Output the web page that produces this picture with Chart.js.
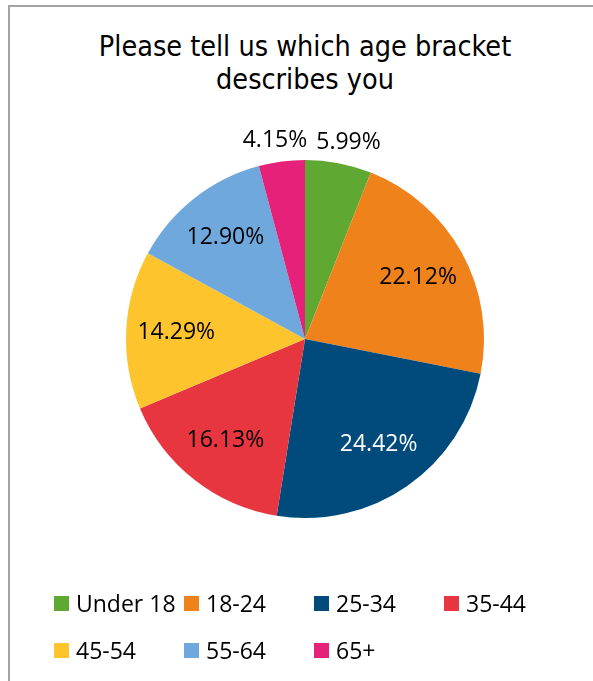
<!DOCTYPE html>
<html lang="en">
<head>
    <meta charset="UTF-8" />
    <title>Age bracket</title>
    <script src="https://cdn.jsdelivr.net/npm/chart.js"></script>
    <style>
        * { box-sizing: border-box; margin: 0; padding: 0; }
        body {
            width: 593px; height: 681px;
            background: #fff;
            position: relative;
            overflow: hidden;
            font-family: 'Open Sans', sans-serif;
            color: #000;
        }
        /* light frame, only top + left visible in the picture */
        .frame {
            position: absolute;
            left: 8px; top: 5px;
            width: 600px; height: 700px;
            border-top: 2px solid #a3a3a3;
            border-left: 2px solid #a3a3a3;
        }
        #chart {
            position: absolute;
            left: 0; top: 0;
        }
        h1 {
            position: absolute;
            left: 0; width: 610px; top: 30px;
            text-align: center;
            font-family: 'DejaVu Sans Condensed', 'DejaVu Sans', sans-serif;
            font-weight: normal;
            font-size: 28.5px;
            line-height: 33px;
        }
        #legend {
            position: absolute;
            left: 54px; top: 589px;
            display: grid;
            grid-template-columns: repeat(4, 130px);
            grid-auto-rows: 47px;
            font-size: 23px;
        }
        #legend .item {
            display: flex;
            align-items: center;
            white-space: nowrap;
            height: 28px;
        }
        #legend .box {
            width: 15px; height: 15px;
            margin-right: 7px;
            flex: none;
        }
    </style>
</head>
<body>
    <div class="frame"></div>
    <h1>Please tell us which age bracket<br>describes you</h1>
    <canvas id="chart" width="593" height="681"></canvas>
    <div id="legend"></div>

    <script>
        const categories = ['Under 18', '18-24', '25-34', '35-44', '45-54', '55-64', '65+'];
        const shares = [5.99, 22.12, 24.42, 16.13, 14.29, 12.90, 4.15];
        const colors = ['#5fa933', '#f0821c', '#014b7c', '#e7363f', '#fec42e', '#6fa8dc', '#e6217a'];
        const labelColors = ['#000', '#000', '#fff', '#000', '#000', '#000', '#000'];
        // small slices get their label outside the pie
        const outside = [true, false, false, false, false, false, true];

        // percent labels inside / above the slices
        const pctLabels = {
            id: 'pctLabels',
            afterDatasetsDraw(chart) {
                const ctx = chart.ctx;
                const meta = chart.getDatasetMeta(0);
                ctx.save();
                ctx.font = '23px "Open Sans", sans-serif';
                ctx.textAlign = 'center';
                ctx.textBaseline = 'middle';
                meta.data.forEach((arc, i) => {
                    const p = arc.getProps(['x', 'y', 'startAngle', 'endAngle', 'outerRadius'], true);
                    const mid = (p.startAngle + p.endAngle) / 2;
                    const f = outside[i] ? 1.12 : 0.72;
                    let x = p.x + Math.cos(mid) * p.outerRadius * f;
                    const y = p.y + Math.sin(mid) * p.outerRadius * f;
                    // outside labels lean away from the top centre
                    if (outside[i]) x += Math.cos(mid) > 0 ? 6 : -4;
                    ctx.fillStyle = labelColors[i];
                    ctx.fillText(shares[i].toFixed(2) + '%', x, y);
                });
                ctx.restore();
            }
        };

        new Chart(document.getElementById('chart'), {
            type: 'pie',
            data: {
                labels: categories,
                datasets: [{
                    data: shares,
                    backgroundColor: colors,
                    borderWidth: 0
                }]
            },
            options: {
                responsive: false,
                animation: false,
                layout: { padding: { left: 126, right: 109, top: 160, bottom: 163 } },
                plugins: {
                    legend: { display: false },
                    title: { display: false },
                    tooltip: { enabled: false }
                }
            },
            plugins: [pctLabels]
        });

        // legend in a fixed grid like the original
        const legend = document.getElementById('legend');
        categories.forEach((c, i) => {
            const item = document.createElement('div');
            item.className = 'item';
            item.innerHTML = '<span class="box" style="background:' + colors[i] + '"></span>' + c;
            legend.appendChild(item);
        });
    </script>
</body>
</html>
